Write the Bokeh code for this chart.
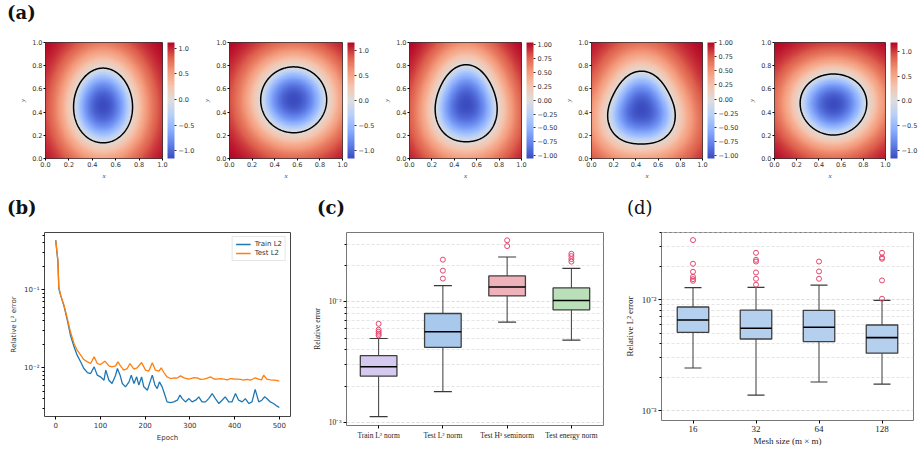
import numpy as np
from bokeh.plotting import figure
from bokeh.models import (LinearColorMapper, ColorBar, FixedTicker,
                          CustomJSTickFormatter, Div)
from bokeh.layouts import row, column
from bokeh.embed import file_html
from bokeh.resources import INLINE

# ---------------- (a) five level-set fields ----------------
field_cx = [0.492, 0.568, 0.506, 0.450, 0.531]
field_cy = [0.454, 0.506, 0.463, 0.420, 0.468]
field_rx = [0.252, 0.292, 0.275, 0.300, 0.300]
field_ry = [0.322, 0.284, 0.332, 0.314, 0.263]
field_tri = [0.01, 0.00, 0.04, 0.06, -0.01]
field_min = [-1.15, -1.16, -1.05, -1.05, -1.17]
field_max = [1.11, 1.15, 1.04, 1.00, 1.19]
cbar_ticks = [
    [-1.0, -0.5, 0.0, 0.5, 1.0],
    [-1.0, -0.5, 0.0, 0.5, 1.0],
    [-1.0, -0.75, -0.5, -0.25, 0.0, 0.25, 0.5, 0.75, 1.0],
    [-1.0, -0.75, -0.5, -0.25, 0.0, 0.25, 0.5, 0.75, 1.0],
    [-1.0, -0.5, 0.0, 0.5, 1.0],
]
cbar_digits = [1, 1, 2, 2, 1]
unit_ticks = [0.0, 0.2, 0.4, 0.6, 0.8, 1.0]

# ---------------- (b) training curves ----------------
train_epoch = [0, 5, 7, 11, 19, 26, 33, 41, 48, 56, 63, 71, 78, 86, 93, 100, 108, 112, 119, 126,
               134, 138, 144, 149, 156, 164, 169, 175, 181, 186, 192, 197, 205, 211, 216, 222, 227, 232, 238, 243,
               249, 257, 264, 272, 278, 283, 290, 298, 305, 313, 320, 327, 335, 342, 350, 357, 365, 372, 379, 387,
               394, 402, 409, 417, 424, 432, 439, 446, 454, 461, 467, 472, 480, 487, 495, 500]
train_l2 = [0.433, 0.229, 0.104, 0.0855, 0.0605, 0.0408, 0.0262, 0.0186, 0.01454, 0.0119,
            0.0098, 0.0087, 0.00846, 0.0103, 0.00806, 0.00767, 0.00695, 0.00934, 0.00695, 0.0063,
            0.00806, 0.0098, 0.00806, 0.0063, 0.00571, 0.00662, 0.00806, 0.0063, 0.00767, 0.006,
            0.00767, 0.00571, 0.00517, 0.00662, 0.00806, 0.006, 0.00543, 0.00662, 0.00571, 0.00469,
            0.00366, 0.00359, 0.00366, 0.00385, 0.00447, 0.00404, 0.00366, 0.00404, 0.00366, 0.00385,
            0.00425, 0.00366, 0.00366, 0.00404, 0.00469, 0.00404, 0.00349, 0.00385, 0.00425, 0.00366,
            0.00366, 0.00469, 0.00385, 0.00366, 0.00404, 0.00349, 0.00366, 0.0053, 0.00366, 0.00385,
            0.00425, 0.00404, 0.00366, 0.00349, 0.00323, 0.0031]
test_epoch = [0, 5, 7, 11, 19, 26, 33, 41, 48, 56, 63, 71, 78, 86, 93, 100, 110, 119, 126, 134,
              139, 145, 152, 160, 166, 175, 182, 192, 201, 208, 216, 223, 231, 236, 242, 249, 257, 265, 272, 279,
              287, 295, 302, 309, 316, 324, 331, 339, 346, 354, 361, 369, 376, 384, 391, 399, 406, 413, 420, 428,
              435, 441, 446, 454, 460, 465, 472, 480, 487, 494, 500]
test_l2 = [0.433, 0.24, 0.109, 0.0855, 0.0624, 0.0429, 0.029, 0.0205, 0.01684, 0.01454,
           0.01279, 0.01194, 0.01137, 0.01384, 0.01137, 0.01104, 0.01218, 0.01061, 0.0103, 0.01061,
           0.01194, 0.01061, 0.00934, 0.0098, 0.01137, 0.00962, 0.0100, 0.0117, 0.00934, 0.00906,
           0.01159, 0.00934, 0.00906, 0.0100, 0.00871, 0.00767, 0.0073, 0.00745, 0.0074, 0.00789,
           0.00745, 0.0072, 0.0073, 0.0075, 0.00745, 0.0071, 0.00716, 0.0074, 0.00767, 0.0072,
           0.00716, 0.0073, 0.00716, 0.0070, 0.0073, 0.0072, 0.00716, 0.0071, 0.00695, 0.0071,
           0.00695, 0.0072, 0.00745, 0.00716, 0.0070, 0.00806, 0.00716, 0.0070, 0.00695, 0.0069,
           0.00675]

# ---------------- (c) error norms ----------------
c_labels = ["Train L\u00b2 norm", "Test L\u00b2 norm", "Test H\u00b9 seminorm", "Test energy norm"]
c_whislo = [0.00112, 0.0018, 0.00679, 0.00482]
c_q1 = [0.00242, 0.0042, 0.0112, 0.00859]
c_med = [0.0029, 0.00565, 0.0133, 0.01026]
c_q3 = [0.00358, 0.00801, 0.0164, 0.01305]
c_whishi = [0.00497, 0.01365, 0.02355, 0.01897]
c_outliers = [[0.00658, 0.00588, 0.00565, 0.00544, 0.00527],
              [0.0224, 0.01815, 0.0156],
              [0.0324, 0.0290],
              [0.02505, 0.02397, 0.02265, 0.02155]]
c_colors = ["#d6c9ef", "#a9c9ec", "#efb1ba", "#b9e0b9"]

# ---------------- (d) mesh size ----------------
d_labels = ["16", "32", "64", "128"]
d_whislo = [0.00242, 0.00138, 0.00181, 0.00173]
d_q1 = [0.00508, 0.00442, 0.00419, 0.00329]
d_med = [0.00656, 0.00552, 0.00564, 0.00455]
d_q3 = [0.00859, 0.00807, 0.00802, 0.00591]
d_whishi = [0.01283, 0.01291, 0.01355, 0.00986]
d_outliers = [[0.0345, 0.0211, 0.01787, 0.0161, 0.01535, 0.01482],
              [0.0265, 0.0229, 0.0221, 0.0176, 0.01545, 0.01365],
              [0.0221, 0.01798, 0.01545],
              [0.0265, 0.0240, 0.0234, 0.01493, 0.0102]]
d_colors = ["#b5d0ee"] * 4

# coolwarm colormap
cw_anchor = [(59, 76, 192), (98, 130, 234), (141, 176, 254), (184, 208, 249), (221, 221, 221),
             (245, 196, 173), (244, 154, 123), (222, 96, 77), (180, 4, 38)]


def make_palette(n=256):
    a = np.array(cw_anchor, dtype=float)
    t = np.linspace(0, 1, len(a))
    s = np.linspace(0, 1, n)
    cols = [np.interp(s, t, a[:, k]) for k in range(3)]
    return ["#%02x%02x%02x" % (int(round(r)), int(round(g)), int(round(b)))
            for r, g, b in zip(*cols)]


PAL = make_palette()
SANS = "DejaVu Sans"
SERIF = "Liberation Serif"

SUP_JS = """
const e = Math.round(Math.log10(tick));
const m = {"-":"\u207b","0":"\u2070","1":"\u00b9","2":"\u00b2","3":"\u00b3","4":"\u2074",
           "5":"\u2075","6":"\u2076","7":"\u2077","8":"\u2078","9":"\u2079"};
return "10" + String(e).split("").map(c => m[c]).join("");
"""


def fixed_fmt(nd):
    return CustomJSTickFormatter(code="return tick.toFixed(%d).replace('-', '\u2212');" % nd)


def heat(i, width, bl, br):
    p = figure(width=width, height=155, x_range=(0, 1), y_range=(0, 1),
               min_border_left=bl, min_border_right=br, min_border_top=12, min_border_bottom=27,
               output_backend="svg", toolbar_location=None)
    n = 160
    xs = np.linspace(0, 1, n)
    X, Y = np.meshgrid(xs, xs)
    u = (X - field_cx[i]) / field_rx[i]
    v = (Y - field_cy[i]) / field_ry[i]
    th = np.arctan2(v, u)
    d = np.hypot(u, v) / (1 + field_tri[i] * np.cos(3 * (th - np.pi / 2)))
    dmax = d.max()
    z = np.where(d < 1, field_min[i] * (1 - d ** 2),
                 field_max[i] * np.tanh(d - 1) / np.tanh(dmax - 1))
    mapper = LinearColorMapper(palette=PAL, low=field_min[i], high=field_max[i])
    p.image(image=[z], x=0, y=0, dw=1, dh=1, color_mapper=mapper)
    t = np.linspace(0, 2 * np.pi, 300)
    r = 1 + field_tri[i] * np.cos(3 * (t - np.pi / 2))
    p.line(field_cx[i] + field_rx[i] * r * np.cos(t), field_cy[i] + field_ry[i] * r * np.sin(t),
           line_color="black", line_width=1.5)
    p.grid.visible = False
    p.outline_line_color = "#333333"
    for ax in (p.xaxis[0], p.yaxis[0]):
        ax.ticker = FixedTicker(ticks=unit_ticks)
        ax.formatter = fixed_fmt(1)
        ax.major_label_text_font = SANS
        ax.major_label_text_font_size = "6.5px"
        ax.major_label_text_color = "#333333"
        ax.major_tick_out = 2
        ax.major_tick_in = 0
        ax.minor_tick_line_color = None
        ax.axis_line_color = None
        ax.major_label_standoff = 1
        ax.axis_label_standoff = 2
        ax.axis_label_text_font = SERIF
        ax.axis_label_text_font_style = "italic"
        ax.axis_label_text_font_size = "7px"
    p.xaxis.axis_label = "x"
    p.yaxis.axis_label = "y"
    cb = ColorBar(color_mapper=mapper, width=7, padding=0, margin=0, location=(5, 0),
                  ticker=FixedTicker(ticks=cbar_ticks[i]), formatter=fixed_fmt(cbar_digits[i]),
                  major_label_text_font=SANS, major_label_text_font_size="6.5px",
                  major_label_text_color="#333333",
                  major_tick_line_color="#333333", major_tick_out=2, major_tick_in=0,
                  label_standoff=2, bar_line_color=None, border_line_color=None)
    p.add_layout(cb, "right")
    return p


heat_figs = [heat(0, 200, 45, 38), heat(1, 180, 25, 38), heat(2, 182, 26, 41),
             heat(3, 183, 25, 43), heat(4, 175, 23, 34)]

# ---------------- (b) ----------------
pb = figure(width=300, height=244, x_range=(-25, 525), y_range=(0.00238, 0.543), y_axis_type="log",
            min_border_left=44, min_border_right=10, min_border_top=7, min_border_bottom=53,
            output_backend="svg", toolbar_location=None)
pb.line(train_epoch, train_l2, line_color="#1f77b4", line_width=1.3, legend_label="Train L2")
pb.line(test_epoch, test_l2, line_color="#ff7f0e", line_width=1.3, legend_label="Test L2")
pb.grid.visible = False
pb.outline_line_color = "#444444"
pb.xaxis.ticker = FixedTicker(ticks=[0, 100, 200, 300, 400, 500])
pb.yaxis.ticker = FixedTicker(ticks=[0.01, 0.1],
                              minor_ticks=[0.003, 0.004, 0.005, 0.006, 0.007, 0.008, 0.009,
                                           0.02, 0.03, 0.04, 0.05, 0.06, 0.07, 0.08, 0.09,
                                           0.2, 0.3, 0.4, 0.5])
pb.yaxis.formatter = CustomJSTickFormatter(code=SUP_JS)
for ax in (pb.xaxis[0], pb.yaxis[0]):
    ax.major_label_text_font = SANS
    ax.major_label_text_font_size = "7px"
    ax.major_label_text_color = "#333333"
    ax.axis_label_text_font = SANS
    ax.axis_label_text_font_size = "7px"
    ax.axis_label_text_font_style = "normal"
    ax.axis_label_text_color = "#333333"
    ax.major_tick_out = 3
    ax.major_tick_in = 0
    ax.minor_tick_out = 2
    ax.minor_tick_in = 0
    ax.axis_line_color = None
    ax.major_label_standoff = 2
    ax.axis_label_standoff = 3
pb.xaxis.minor_tick_line_color = None
pb.xaxis.axis_label = "Epoch"
pb.yaxis.axis_label = "Relative L\u00b2 error"
pb.legend.location = "top_right"
pb.legend.label_text_font = SANS
pb.legend.label_text_font_size = "7px"
pb.legend.label_text_color = "#333333"
pb.legend.glyph_height = 8
pb.legend.glyph_width = 15
pb.legend.label_height = 8
pb.legend.label_standoff = 4
pb.legend.spacing = 1
pb.legend.padding = 3
pb.legend.margin = 4
pb.legend.border_line_color = "#cccccc"
pb.legend.background_fill_alpha = 0.85


# ---------------- box plots ----------------
def boxplot(p, lo, q1, med, q3, hi, outl, colors, bw, capw):
    pos = list(range(1, len(lo) + 1))
    p.segment(x0=pos, y0=q3, x1=pos, y1=hi, line_color="#3a3a3a", line_width=1)
    p.segment(x0=pos, y0=q1, x1=pos, y1=lo, line_color="#3a3a3a", line_width=1)
    p.segment(x0=[x - capw / 2 for x in pos], y0=hi, x1=[x + capw / 2 for x in pos], y1=hi,
              line_color="#3a3a3a", line_width=1.2)
    p.segment(x0=[x - capw / 2 for x in pos], y0=lo, x1=[x + capw / 2 for x in pos], y1=lo,
              line_color="#3a3a3a", line_width=1.2)
    p.vbar(x=pos, width=bw, bottom=q1, top=q3, fill_color=colors, line_color="#3f3f3f",
           line_width=1.3)
    p.segment(x0=[x - bw / 2 for x in pos], y0=med, x1=[x + bw / 2 for x in pos], y1=med,
              line_color="black", line_width=1.6)
    ox, oy = [], []
    for k, vals in enumerate(outl):
        ox += [pos[k]] * len(vals)
        oy += vals
    p.scatter(ox, oy, marker="circle", size=5, fill_color=None, line_color="#e5466e",
              line_width=1)


def style_box(p, labels, fs, ylabel, xlabel, decades, minors):
    p.xgrid.visible = False
    tk = FixedTicker(ticks=decades, minor_ticks=minors)
    p.yaxis.ticker = tk
    p.ygrid.ticker = tk
    p.ygrid.grid_line_color = "#dcdcdc"
    p.ygrid.grid_line_dash = "3 2"
    p.ygrid.minor_grid_line_color = "#e4e4e4"
    p.ygrid.minor_grid_line_dash = "3 2"
    p.yaxis.formatter = CustomJSTickFormatter(code=SUP_JS)
    p.xaxis.ticker = FixedTicker(ticks=list(range(1, len(labels) + 1)))
    p.xaxis.formatter = CustomJSTickFormatter(args=dict(labels=labels),
                                              code="return labels[Math.round(tick) - 1];")
    p.outline_line_color = "#777777"
    for ax in (p.xaxis[0], p.yaxis[0]):
        ax.major_label_text_font = SERIF
        ax.major_label_text_font_size = fs
        ax.major_label_text_color = "#222222"
        ax.axis_label_text_font = SERIF
        ax.axis_label_text_font_size = fs
        ax.axis_label_text_font_style = "normal"
        ax.axis_label_text_color = "#222222"
        ax.major_tick_out = 3
        ax.major_tick_in = 0
        ax.minor_tick_out = 2
        ax.minor_tick_in = 0
        ax.axis_line_color = None
        ax.major_label_standoff = 2
        ax.axis_label_standoff = 4
    p.xaxis.minor_tick_line_color = None
    p.yaxis.axis_label = ylabel
    if xlabel:
        p.xaxis.axis_label = xlabel
        p.xaxis.axis_label_standoff = 1


minor_c = [k * 1e-3 for k in range(2, 10)] + [k * 1e-2 for k in range(2, 4)]
pc = figure(width=315, height=244, x_range=(0.5, 4.5), y_range=(0.000944, 0.0376), y_axis_type="log",
            min_border_left=46, min_border_right=12, min_border_top=7, min_border_bottom=44,
            output_backend="svg", toolbar_location=None)
boxplot(pc, c_whislo, c_q1, c_med, c_q3, c_whishi, c_outliers, c_colors, 0.57, 0.28)
style_box(pc, c_labels, "7.5px", "Relative error", None, [0.001, 0.01], minor_c)

minor_d = [k * 1e-3 for k in range(2, 10)] + [k * 1e-2 for k in range(2, 5)]
pd_ = figure(width=305, height=244, x_range=(0.5, 4.5), y_range=(0.000813, 0.0404), y_axis_type="log",
             min_border_left=46, min_border_right=7, min_border_top=7, min_border_bottom=49,
             output_backend="svg", toolbar_location=None)
boxplot(pd_, d_whislo, d_q1, d_med, d_q3, d_whishi, d_outliers, d_colors, 0.5, 0.27)
style_box(pd_, d_labels, "9px", "Relative L\u00b2 error", "Mesh size (m \u00d7 m)", [0.001, 0.01], minor_d)


def label_div(txt, w, h, left, top, bold=True):
    return Div(text=txt, width=w, height=h, margin=(0, 0, 0, 0),
               styles={"font-family": "DejaVu Serif", "font-size": "18px",
                       "font-weight": "bold" if bold else "normal",
                       "padding-left": "%dpx" % left, "padding-top": "%dpx" % top,
                       "line-height": "1", "color": "#111111"})


div_a = label_div("(a)", 920, 30, 7, 4)
div_b = label_div("(b)", 300, 40, 7, 14)
div_c = label_div("(c)", 315, 40, 17, 14)
div_d = label_div("(d)", 305, 40, 12, 14, bold=False)

layout = column(div_a,
                row(*heat_figs, spacing=0),
                row(column(div_b, pb, spacing=0), column(div_c, pc, spacing=0),
                    column(div_d, pd_, spacing=0), spacing=0),
                spacing=0)

open("out.html", "w").write(file_html(layout, INLINE, title="figure"))
